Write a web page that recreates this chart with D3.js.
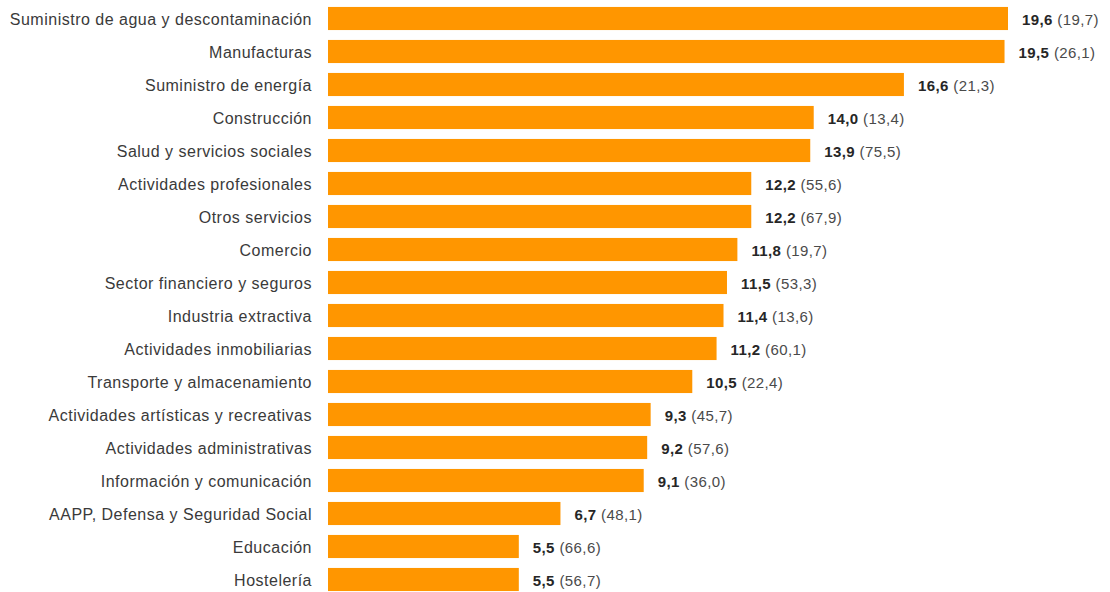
<!DOCTYPE html>
<html>
<head>
<meta charset="utf-8">
<script src="https://cdn.jsdelivr.net/npm/d3@7"></script>
<style>
    body { margin: 0; background: #fff; }
    svg { display: block; font-family: 'Liberation Sans', Arial, sans-serif; }
</style>
</head>
<body>
<div class="container"></div>
<script>
const sectors = [
    'Suministro de agua y descontaminación',
    'Manufacturas',
    'Suministro de energía',
    'Construcción',
    'Salud y servicios sociales',
    'Actividades profesionales',
    'Otros servicios',
    'Comercio',
    'Sector financiero y seguros',
    'Industria extractiva',
    'Actividades inmobiliarias',
    'Transporte y almacenamiento',
    'Actividades artísticas y recreativas',
    'Actividades administrativas',
    'Información y comunicación',
    'AAPP, Defensa y Seguridad Social',
    'Educación',
    'Hostelería'
];
const values = [19.6, 19.5, 16.6, 14.0, 13.9, 12.2, 12.2, 11.8, 11.5, 11.4, 11.2, 10.5, 9.3, 9.2, 9.1, 6.7, 5.5, 5.5];
const secondary = [19.7, 26.1, 21.3, 13.4, 75.5, 55.6, 67.9, 19.7, 53.3, 13.6, 60.1, 22.4, 45.7, 57.6, 36.0, 48.1, 66.6, 56.7];

const w = 1110;
const h = 592;
const margin = { top: 2, right: 102, bottom: 0, left: 328 };

const fmt = v => v.toFixed(1).replace('.', ',');

const svg = d3.select('.container')
    .append('svg')
    .attr('width', w)
    .attr('height', h);

const x = d3.scaleLinear()
    .domain([0, 19.6])
    .range([margin.left, 1008]);

const y = d3.scaleBand()
    .domain(sectors)
    .range([margin.top, margin.top + 33 * sectors.length])
    .paddingInner(0.3)
    .paddingOuter(0.15);

const rows = svg.selectAll('g.row')
    .data(sectors.map((s, i) => ({ name: s, value: values[i], other: secondary[i] })))
    .join('g')
    .attr('class', 'row');

rows.append('rect')
    .attr('x', x(0))
    .attr('y', d => y(d.name))
    .attr('width', d => x(d.value) - x(0))
    .attr('height', y.bandwidth())
    .attr('fill', '#ff9600');

rows.append('text')
    .attr('x', margin.left - 16)
    .attr('y', d => y(d.name) + y.bandwidth() / 2)
    .attr('dy', '0.42em')
    .attr('text-anchor', 'end')
    .style('font-size', '16px')
    .style('letter-spacing', '0.5px')
    .style('fill', '#3a3a3a')
    .text(d => d.name);

const vl = rows.append('text')
    .attr('x', d => x(d.value) + 14)
    .attr('y', d => y(d.name) + y.bandwidth() / 2)
    .attr('dy', '0.42em')
    .style('font-size', '15px')
    .style('letter-spacing', '0.4px')
    .style('fill', '#333');

vl.append('tspan')
    .style('font-weight', 'bold')
    .style('fill', '#262626')
    .text(d => fmt(d.value));

vl.append('tspan')
    .style('fill', '#4a4a4a')
    .text(d => ' (' + fmt(d.other) + ')');
</script>
</body>
</html>
